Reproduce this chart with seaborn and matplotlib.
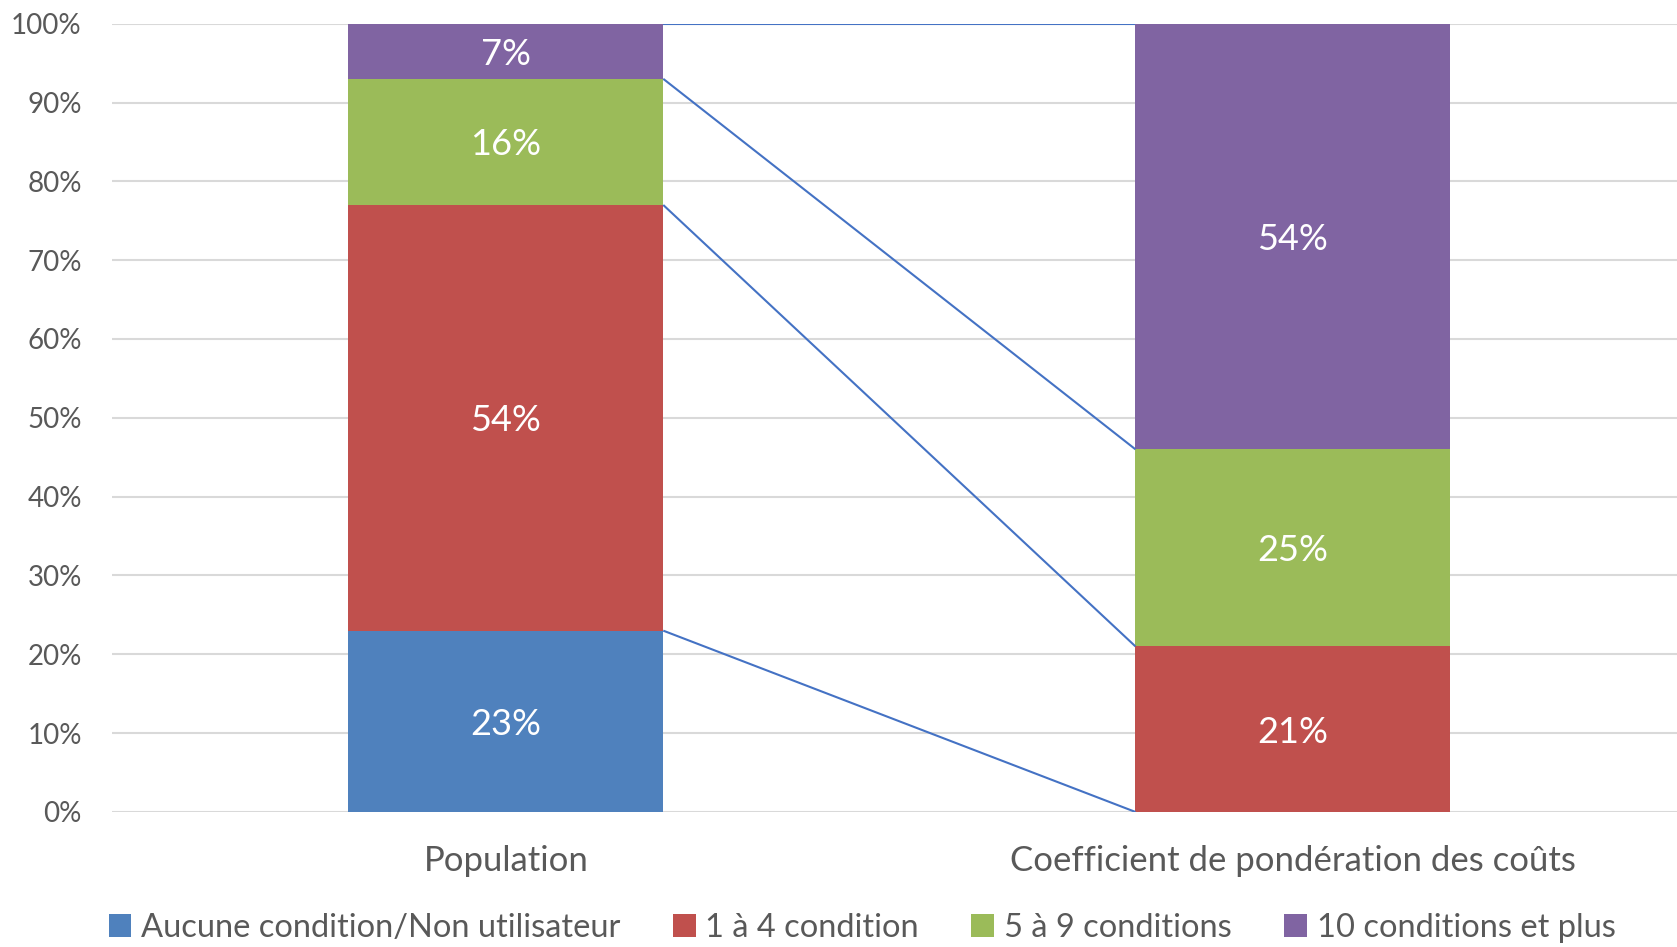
import matplotlib
matplotlib.use("Agg")
import matplotlib.pyplot as plt
from matplotlib.patches import Patch
from matplotlib.ticker import PercentFormatter, MultipleLocator
import numpy as np
import pandas as pd
import seaborn as sns

# Data (percent of each column)
categories = ["Population", "Coefficient de pondération des coûts"]
series_names = ["Aucune condition/Non utilisateur", "1 à 4 condition",
                "5 à 9 conditions", "10 conditions et plus"]
aucune = [23, 0]
un_a_quatre = [54, 21]
cinq_a_neuf = [16, 25]
dix_et_plus = [7, 54]
colors = ["#4F81BD", "#C0504D", "#9BBB59", "#8064A2"]

sns.set_theme(style="white")
plt.rcParams["font.family"] = ["Lato", "DejaVu Sans"]

values = np.array([aucune, un_a_quatre, cinq_a_neuf, dix_et_plus], dtype=float)
tops = values.cumsum(axis=0)
bottoms = tops - values

fig, ax = plt.subplots(figsize=(16.77, 9.47), dpi=100)
fig.subplots_adjust(left=0.067, right=1.0056, top=0.975, bottom=0.1426)

bar_w = 0.4
# Stacked columns: draw cumulative totals from the top series down
for i in range(len(series_names) - 1, -1, -1):
    df = pd.DataFrame({"cat": categories, "val": tops[i]})
    sns.barplot(data=df, x="cat", y="val", color=colors[i], width=bar_w,
                linewidth=0, saturation=1, ax=ax, zorder=2)

# Series lines connecting segment tops between the two columns
for i in range(len(series_names)):
    ax.plot([0 + bar_w / 2, 1 - bar_w / 2], [tops[i][0], tops[i][1]],
            color="#4472C4", lw=1.5, zorder=3, solid_capstyle="butt")

# Value labels in segment centres
for i in range(len(series_names)):
    for j in range(len(categories)):
        v = values[i][j]
        if v > 0:
            ax.text(j, bottoms[i][j] + v / 2, f"{v:.0f}%", ha="center",
                    va="center_baseline", color="white", fontsize=26, zorder=4)

ax.set_ylim(0, 100)
ax.set_xlim(-0.5, 1.5)
ax.yaxis.set_major_locator(MultipleLocator(10))
ax.yaxis.set_major_formatter(PercentFormatter(100, decimals=0))
ax.grid(axis="y", color="#D9D9D9", lw=1.5, zorder=0)
ax.set_axisbelow(True)
for s in ax.spines.values():
    s.set_visible(False)
ax.set_xlabel("")
ax.set_ylabel("")
ax.tick_params(axis="y", length=0, pad=22, labelsize=20, labelcolor="#595959")
ax.tick_params(axis="x", length=0, pad=24, labelsize=25, labelcolor="#595959")

handles = [Patch(facecolor=c, edgecolor="none", label=n)
           for c, n in zip(colors, series_names)]
fig.legend(handles=handles, loc="center", bbox_to_anchor=(0.514, 0.02),
           ncol=4, frameon=False, fontsize=23.5, labelcolor="#595959",
           handlelength=0.7, handleheight=0.7, handletextpad=0.3,
           columnspacing=1.6)

fig.savefig("out.png", dpi=100)
